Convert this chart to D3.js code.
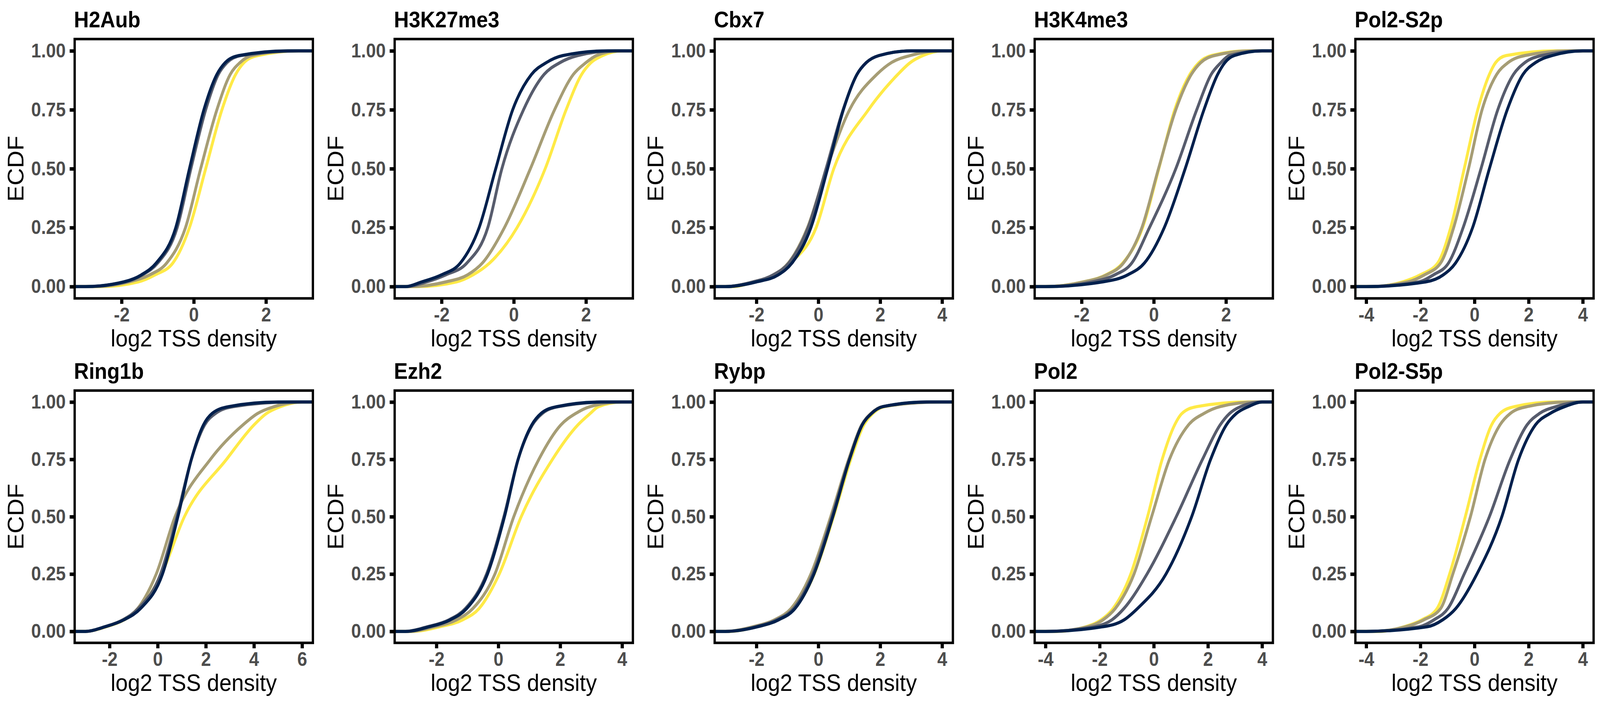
<!DOCTYPE html>
<html>
<head>
<meta charset="utf-8">
<script src="https://cdn.jsdelivr.net/npm/d3@7"></script>
<style>
  html, body { margin: 0; padding: 0; background: #fff; overflow: hidden; }
  #chart { width: 100vw; height: 100vh; }
  svg { display: block; width: 100%; height: 100%; }
</style>
</head>
<body>
<div id="chart"></div>
<script>
// facet titles, in reading order
var panelNames = ["H2Aub", "H3K27me3", "Cbx7", "H3K4me3", "Pol2-S2p",
                  "Ring1b", "Ezh2", "Rybp", "Pol2", "Pol2-S5p"];

// cividis(4), drawn in this order (navy on top)
var groupColors = ["#FFEA46", "#A69D75", "#575C6D", "#00204D"];

// ECDF levels at which the x values below were read off the picture
// (first = min of the group, last = max of the group)
var ecdfLevels = [0, 0.02, 0.05, 0.1, 0.25, 0.5, 0.75, 0.9, 0.95, 0.98, 1];

var yTicks = [0, 0.25, 0.5, 0.75, 1];
var yTickLabels = ["0.00", "0.25", "0.50", "0.75", "1.00"];

// log2 TSS density per group: yellow, tan, slate, navy
var h2aub = [
  [-2.6, -1.54, -1.07, -0.58, -0.12, 0.33, 0.78, 1.16, 1.39, 1.77, 2.9],
  [-2.8, -1.80, -1.22, -0.75, -0.23, 0.19, 0.64, 1.01, 1.28, 1.60, 2.7],
  [-3.0, -1.90, -1.42, -1.00, -0.46, -0.08, 0.33, 0.68, 0.92, 1.30, 3.0],
  [-3.0, -1.94, -1.45, -1.04, -0.50, -0.12, 0.28, 0.64, 0.87, 1.25, 2.6]
];
var h3k27me3 = [
  [-2.7, -1.59, -1.13, -0.67, 0.09, 0.87, 1.45, 1.88, 2.14, 2.46, 3.0],
  [-2.9, -1.88, -1.28, -0.87, -0.26, 0.46, 1.13, 1.65, 2.00, 2.29, 2.9],
  [-3.0, -2.41, -1.88, -1.30, -0.72, -0.33, 0.27, 0.84, 1.28, 1.77, 2.8],
  [-3.0, -2.55, -2.00, -1.48, -0.96, -0.50, -0.03, 0.49, 0.90, 1.36, 2.6]
];
var cbx7 = [
  [-2.8, -2.05, -1.35, -0.90, -0.07, 0.50, 1.62, 2.57, 2.97, 3.38, 4.0],
  [-3.0, -2.10, -1.45, -0.97, -0.35, 0.27, 1.01, 1.89, 2.36, 2.97, 3.9],
  [-3.0, -2.10, -1.45, -0.95, -0.33, 0.25, 0.80, 1.25, 1.55, 1.96, 3.0],
  [-3.0, -2.00, -1.29, -0.85, -0.24, 0.30, 0.81, 1.25, 1.55, 1.96, 3.0]
];
var h3k4me3 = [
  [-3.0, -1.95, -1.32, -0.86, -0.31, 0.14, 0.58, 1.00, 1.25, 1.60, 2.6],
  [-3.0, -1.94, -1.30, -0.84, -0.33, 0.13, 0.61, 1.04, 1.30, 1.68, 2.7],
  [-2.9, -1.71, -1.07, -0.61, -0.12, 0.61, 1.19, 1.59, 1.86, 2.09, 3.0],
  [-3.0, -1.42, -0.72, -0.26, 0.29, 0.87, 1.39, 1.77, 1.97, 2.23, 3.0]
];
var pol2s2p = [
  [-3.8, -2.65, -2.00, -1.36, -0.88, -0.38, 0.12, 0.55, 0.78, 1.17, 3.0],
  [-4.0, -2.45, -1.85, -1.25, -0.77, -0.22, 0.28, 0.82, 1.24, 1.86, 3.5],
  [-4.0, -2.05, -1.52, -0.96, -0.42, 0.24, 0.86, 1.44, 1.86, 2.48, 4.0],
  [-4.0, -1.80, -1.15, -0.70, -0.07, 0.55, 1.21, 1.79, 2.25, 2.87, 4.0]
];
var ring1b = [
  [-3.0, -2.15, -1.40, -0.75, 0.16, 1.11, 2.86, 4.00, 4.52, 5.10, 6.0],
  [-3.0, -2.20, -1.45, -0.83, -0.06, 0.72, 2.19, 3.54, 4.15, 4.84, 6.0],
  [-3.0, -2.20, -1.45, -0.80, 0.12, 0.80, 1.40, 1.95, 2.40, 3.15, 5.5],
  [-3.0, -2.19, -1.41, -0.71, 0.20, 0.84, 1.40, 1.90, 2.26, 2.95, 5.0]
];
var ezh2 = [
  [-2.8, -1.90, -1.16, -0.62, 0.03, 0.74, 1.75, 2.57, 2.97, 3.24, 4.0],
  [-2.9, -2.07, -1.36, -0.82, -0.11, 0.50, 1.31, 2.02, 2.50, 2.97, 4.0],
  [-3.0, -2.30, -1.60, -1.06, -0.38, 0.18, 0.64, 1.10, 1.42, 1.95, 3.5],
  [-3.0, -2.24, -1.56, -1.02, -0.35, 0.20, 0.64, 1.08, 1.38, 1.89, 3.3]
];
var rybp = [
  [-2.9, -2.00, -1.30, -0.76, -0.13, 0.49, 1.05, 1.47, 1.76, 2.14, 3.8],
  [-3.0, -2.12, -1.42, -0.88, -0.24, 0.40, 0.98, 1.40, 1.70, 2.08, 4.0],
  [-3.0, -2.02, -1.35, -0.80, -0.18, 0.44, 1.00, 1.41, 1.71, 2.08, 3.6],
  [-3.0, -1.97, -1.29, -0.75, -0.14, 0.47, 1.01, 1.42, 1.72, 2.09, 3.5]
];
var pol2 = [
  [-3.6, -2.50, -1.95, -1.50, -0.85, -0.23, 0.31, 0.77, 1.04, 1.59, 3.5],
  [-3.8, -2.45, -1.88, -1.42, -0.73, -0.08, 0.58, 1.28, 1.85, 2.45, 3.8],
  [-4.0, -2.20, -1.55, -1.10, -0.25, 0.83, 1.80, 2.45, 2.80, 3.21, 4.0],
  [-4.0, -1.90, -1.10, -0.60, 0.45, 1.40, 2.10, 2.68, 3.05, 3.50, 4.0]
];
var pol2s5p = [
  [-3.5, -2.60, -1.95, -1.38, -0.92, -0.34, 0.20, 0.63, 0.94, 1.48, 3.0],
  [-3.8, -2.55, -1.88, -1.25, -0.80, -0.15, 0.39, 0.94, 1.32, 1.94, 3.5],
  [-4.0, -2.05, -1.50, -0.98, -0.38, 0.55, 1.32, 1.94, 2.40, 3.02, 4.0],
  [-4.0, -1.75, -1.18, -0.69, 0.09, 1.01, 1.63, 2.25, 2.79, 3.33, 4.0]
];
var quantiles = [h2aub, h3k27me3, cbx7, h3k4me3, pol2s2p,
                 ring1b, ezh2, rybp, pol2, pol2s5p];

// layout (in the 4500 x 1800 drawing space)
var W = 4500, H = 1800;
var colLeft = [210, 1110, 2010, 2910, 3812];
var panelW = 670;
var rowTop = [100, 1000];
var rowH = [664, 646];
var font = "'Liberation Sans', Arial, Helvetica, sans-serif";

// drawing space stretched over the whole window
var svg = d3.select("#chart").append("svg")
    .attr("viewBox", "0 0 " + W + " " + H)
    .attr("preserveAspectRatio", "none")
    .attr("xmlns", "http://www.w3.org/2000/svg");

svg.append("rect").attr("width", W).attr("height", H).attr("fill", "#fff");

panelNames.forEach(function (name, i) {
  var row = Math.floor(i / 5), col = i % 5;
  var q = quantiles[i];
  var h = rowH[row];

  // ggplot-like 5% expansion around the data range
  var lo = d3.min(q, function (d) { return d[0]; });
  var hi = d3.max(q, function (d) { return d[d.length - 1]; });
  var pad = (hi - lo) * 0.05;
  var x = d3.scaleLinear().domain([lo - pad, hi + pad]).range([0, panelW]);
  var y = d3.scaleLinear().domain([-0.05, 1.05]).range([h, 0]);

  var g = svg.append("g")
      .attr("transform", "translate(" + colLeft[col] + "," + rowTop[row] + ")");

  var clipId = "clip" + i;
  g.append("clipPath").attr("id", clipId)
    .append("rect").attr("width", panelW).attr("height", h);

  var line = d3.line()
      .x(function (d) { return x(d[0]); })
      .y(function (d) { return y(d[1]); })
      .curve(d3.curveMonotoneX);

  // ecdf padded out to -Inf / Inf like stat_ecdf
  var curves = q.map(function (vals) {
    var pts = ecdfLevels.map(function (p, j) { return [vals[j], p]; });
    return [[x.domain()[0], 0]].concat(pts, [[x.domain()[1], 1]]);
  });

  g.append("g").attr("clip-path", "url(#" + clipId + ")")
    .selectAll("path")
    .data(curves)
    .enter().append("path")
      .attr("d", line)
      .attr("fill", "none")
      .attr("stroke", function (d, k) { return groupColors[k]; })
      .attr("stroke-width", 8)
      .attr("stroke-linejoin", "round");

  // axes
  var yAxis = d3.axisLeft(y)
      .tickValues(yTicks)
      .tickFormat(function (d, j) { return yTickLabels[j]; })
      .tickSize(14)
      .tickPadding(11);
  var gy = g.append("g").call(yAxis);

  var xAxis = d3.axisBottom(x)
      .ticks(4)
      .tickFormat(function (d) { return String(d); })
      .tickSize(14)
      .tickPadding(10);
  var gx = g.append("g").attr("transform", "translate(0," + h + ")").call(xAxis);

  [gx, gy].forEach(function (ax) {
    ax.attr("font-size", null).attr("font-family", null);
    ax.select(".domain").remove();
    ax.selectAll(".tick line").attr("stroke", "#000").attr("stroke-width", 9);
    ax.selectAll(".tick text")
      .attr("fill", "#4D4D4D")
      .style("font-family", font)
      .style("font-size", "50px")
      .style("font-weight", "bold");
  });

  // panel border
  g.append("rect")
    .attr("width", panelW)
    .attr("height", h)
    .attr("fill", "none")
    .attr("stroke", "#000")
    .attr("stroke-width", 6.5);

  // facet title
  g.append("text")
    .attr("x", -2)
    .attr("y", -30)
    .style("font-family", font)
    .style("font-size", "58px")
    .style("font-weight", "bold")
    .attr("fill", "#000")
    .text(name);

  // axis titles
  g.append("text")
    .attr("x", panelW / 2)
    .attr("y", h + 123)
    .attr("text-anchor", "middle")
    .style("font-family", font)
    .style("font-size", "62px")
    .attr("fill", "#000")
    .text("log2 TSS density");

  g.append("text")
    .attr("transform", "translate(-144," + (h / 2) + ")rotate(-90)")
    .attr("text-anchor", "middle")
    .style("font-family", font)
    .style("font-size", "62px")
    .attr("fill", "#000")
    .text("ECDF");
});
</script>
</body>
</html>
